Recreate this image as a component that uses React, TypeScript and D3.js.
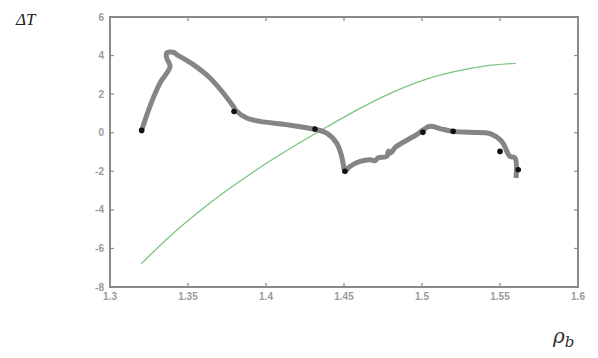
import { useEffect, useRef } from "react";
import * as d3 from "d3";

// green reference curve
const greenX = [1.32, 1.34, 1.36, 1.38, 1.4, 1.42, 1.44, 1.46, 1.48, 1.5, 1.52, 1.54, 1.56];
const greenY = [-6.8, -5.25, -3.9, -2.7, -1.6, -0.6, 0.35, 1.25, 2.05, 2.7, 3.15, 3.45, 3.6];

// thick gray trajectory
const grayX = [
  1.3203, 1.3256, 1.3321, 1.3385, 1.3363, 1.3363, 1.3406, 1.3428, 1.3534, 1.3641, 1.3726,
  1.379, 1.3812, 1.3876, 1.3962, 1.4133, 1.4303, 1.4389, 1.4453, 1.4485, 1.45, 1.4506,
  1.4538, 1.4603, 1.4667, 1.47, 1.472, 1.4774, 1.4785, 1.48, 1.483, 1.4966, 1.5009, 1.5051,
  1.512, 1.52, 1.5308, 1.5436, 1.5511, 1.5564, 1.5596, 1.5603,
];
const grayY = [
  0.12, 1.37, 2.58, 3.44, 3.88, 4.14, 4.17, 4.05, 3.53, 2.84, 2.06,
  1.37, 1.11, 0.76, 0.59, 0.42, 0.19, -0.02, -0.54, -1.23, -1.84, -2.0,
  -1.75, -1.49, -1.4, -1.45, -1.3, -1.23, -0.95, -1.05, -0.75, -0.1, 0.16, 0.33,
  0.2, 0.07, 0.02, -0.05, -0.45, -1.23, -1.3, -2.35,
];

// black markers
const dotX = [1.3203, 1.3795, 1.4314, 1.4506, 1.5006, 1.52, 1.55, 1.5617];
const dotY = [0.12, 1.1, 0.19, -2.0, 0.02, 0.07, -0.97, -1.92];

const xTicks = [1.3, 1.35, 1.4, 1.45, 1.5, 1.55, 1.6];
const yTicks = [-8, -6, -4, -2, 0, 2, 4, 6];

export default function App() {
  const ref = useRef<SVGSVGElement | null>(null);

  useEffect(() => {
    const svg = d3.select(ref.current);
    svg.selectAll("*").remove();

    const left = 110, right = 578, top = 17, bottom = 287;

    const x = d3.scaleLinear().domain([1.3, 1.6]).range([left, right]);
    const y = d3.scaleLinear().domain([-8, 6]).range([bottom, top]);

    const frame = "#8a8a8a";
    const tickCol = "#9a9a9a";

    // ticks on all four sides, pointing inward
    const tk = svg.append("g").attr("stroke", frame).attr("stroke-width", 1.2);
    xTicks.forEach((t) => {
      tk.append("line").attr("x1", x(t)).attr("x2", x(t)).attr("y1", bottom).attr("y2", bottom - 4);
      tk.append("line").attr("x1", x(t)).attr("x2", x(t)).attr("y1", top).attr("y2", top + 4);
    });
    yTicks.forEach((t) => {
      tk.append("line").attr("x1", left).attr("x2", left + 4).attr("y1", y(t)).attr("y2", y(t));
      tk.append("line").attr("x1", right).attr("x2", right - 4).attr("y1", y(t)).attr("y2", y(t));
    });

    svg.append("rect")
      .attr("x", left).attr("y", top)
      .attr("width", right - left).attr("height", bottom - top)
      .attr("fill", "none").attr("stroke", frame).attr("stroke-width", 2);

    const lbl = svg.append("g")
      .attr("font-family", "Liberation Sans, Arial, sans-serif")
      .attr("font-size", 10)
      .attr("font-weight", "bold")
      .attr("fill", tickCol);
    xTicks.forEach((t) => {
      lbl.append("text").attr("x", x(t)).attr("y", bottom + 13)
        .attr("text-anchor", "middle").text(String(t));
    });
    yTicks.forEach((t) => {
      lbl.append("text").attr("x", left - 6).attr("y", y(t) + 3.5)
        .attr("text-anchor", "end").text(String(t));
    });

    const greenLine = d3.line<number>()
      .x((_, i) => x(greenX[i]))
      .y((d) => y(d))
      .curve(d3.curveCatmullRom);
    svg.append("path")
      .attr("d", greenLine(greenY))
      .attr("fill", "none").attr("stroke", "#7cc47f").attr("stroke-width", 1.3);

    const grayLine = d3.line<number>()
      .x((_, i) => x(grayX[i]))
      .y((d) => y(d))
      .curve(d3.curveCatmullRom.alpha(0.5));
    svg.append("path")
      .attr("d", grayLine(grayY))
      .attr("fill", "none").attr("stroke", "#858585").attr("stroke-width", 5)
      .attr("stroke-linejoin", "round").attr("stroke-linecap", "butt");

    svg.selectAll("circle.dot")
      .data(dotY)
      .join("circle")
      .attr("class", "dot")
      .attr("cx", (_, i) => x(dotX[i]))
      .attr("cy", (d) => y(d))
      .attr("r", 2.8)
      .attr("fill", "#111");

    svg.append("text")
      .attr("x", 16).attr("y", 25)
      .attr("font-family", "Liberation Serif, serif")
      .attr("font-style", "italic").attr("font-size", 17)
      .attr("fill", "#222")
      .text("ΔT");

    const rho = svg.append("text")
      .attr("x", 553).attr("y", 343)
      .attr("font-family", "DejaVu Serif, serif")
      .attr("font-style", "italic").attr("font-size", 20)
      .attr("fill", "#333");
    rho.append("tspan").text("ρ");
    rho.append("tspan").attr("dy", 4).attr("font-size", 15).text("b");
  }, []);

  return (
    <svg
      ref={ref}
      width={598}
      height={358}
      style={{ position: "absolute", left: 0, top: 0, background: "#fff" }}
    />
  );
}
